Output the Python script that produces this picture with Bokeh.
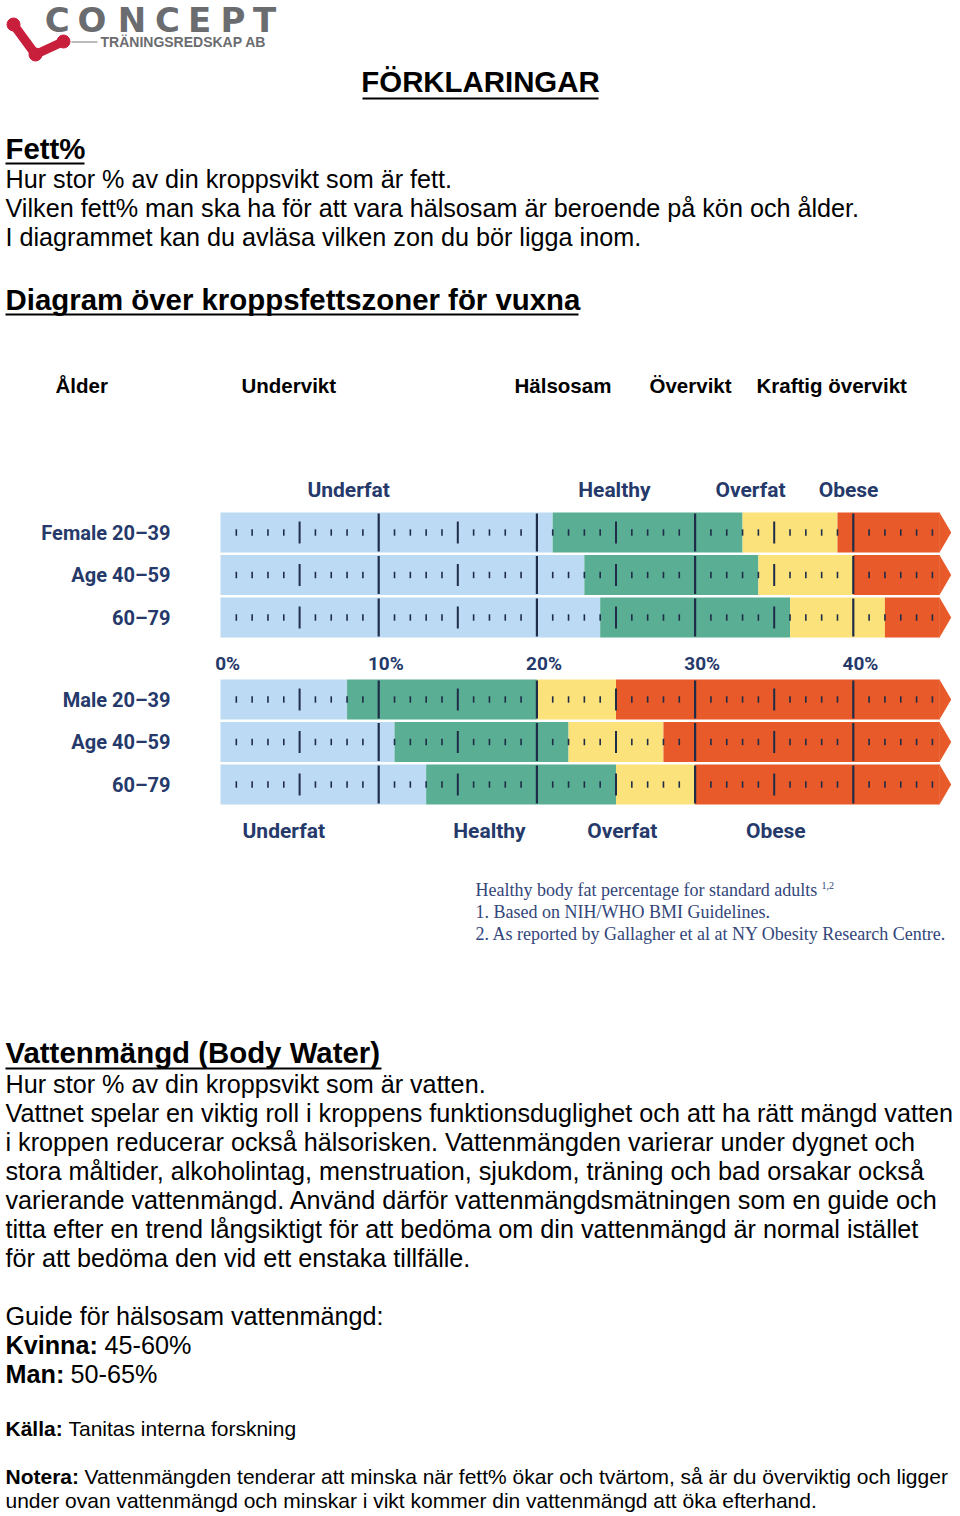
from bokeh.plotting import figure
from bokeh.models import Range1d, ColumnDataSource
from bokeh.core.properties import value
from bokeh.embed import file_html
from bokeh.resources import INLINE

# ---------------- data ----------------
female_groups = ["Female 20–39", "Age 40–59", "60–79"]
male_groups = ["Male 20–39", "Age 40–59", "60–79"]
female_healthy_from = [21, 23, 24]
female_overfat_from = [33, 34, 36]
female_obese_from = [39, 40, 42]
male_healthy_from = [8, 11, 13]
male_overfat_from = [20, 22, 25]
male_obese_from = [25, 28, 30]
zone_names = ["Underfat", "Healthy", "Overfat", "Obese"]
pct_ticks = [0, 10, 20, 30, 40]
pct_tick_labels = ["0%", "10%", "20%", "30%", "40%"]

title_text = "FÖRKLARINGAR"
fat_heading = "Fett%"
fat_lines = [
    "Hur stor % av din kroppsvikt som är fett.",
    "Vilken fett% man ska ha för att vara hälsosam är beroende på kön och ålder.",
    "I diagrammet kan du avläsa vilken zon du bör ligga inom.",
]
diagram_heading = "Diagram över kroppsfettszoner för vuxna"
swedish_zone_words = ["Ålder", "Undervikt", "Hälsosam", "Övervikt", "Kraftig övervikt"]
footnote_lines = [
    "Healthy body fat percentage for standard adults",
    "1. Based on NIH/WHO BMI Guidelines.",
    "2. As reported by Gallagher et al at NY Obesity Research Centre.",
]
water_heading = "Vattenmängd (Body Water)"
water_lines = [
    "Hur stor % av din kroppsvikt som är vatten.",
    "Vattnet spelar en viktig roll i kroppens funktionsduglighet och att ha rätt mängd vatten",
    "i kroppen reducerar också hälsorisken. Vattenmängden varierar under dygnet och",
    "stora måltider, alkoholintag, menstruation, sjukdom, träning och bad orsakar också",
    "varierande vattenmängd. Använd därför vattenmängdsmätningen som en guide och",
    "titta efter en trend långsiktigt  för att bedöma om din vattenmängd är normal istället",
    "för att bedöma den vid ett enstaka tillfälle.",
]
guide_line = "Guide för hälsosam vattenmängd:"
guide_labels = ["Kvinna:", "Man:"]
guide_values = ["45-60%", "50-65%"]
source_label, source_text = "Källa:", "Tanitas interna forskning"
note_label = "Notera:"
note_lines = [
    "Vattenmängden tenderar att minska när fett% ökar och tvärtom, så är du överviktig och ligger",
    "under ovan vattenmängd och minskar i vikt kommer din vattenmängd att öka efterhand.",
]

# ---------------- styles / layout ----------------
C_BLUE, C_GREEN, C_YELLOW, C_ORANGE = "#bcdaf3", "#5aae93", "#fbe27b", "#e85a29"
NAVY = "#25396a"
TICK = "#1e2c48"
SANS = value("Liberation Sans")
SERIF = value("Liberation Serif")
DIN = value("Roboto")
X0 = 5
BAR_END, TIP = 45.47, 46.19
ROW_H = 40
W, H = 960, 1516

p = figure(width=W, height=H, x_range=Range1d(0, W), y_range=Range1d(H, 0),
           output_backend="svg", toolbar_location=None, min_border=0)
p.axis.visible = False
p.grid.visible = False
p.outline_line_color = None
p.background_fill_color = "white"
p.border_fill_color = "white"
p.extra_x_ranges = {"pct": Range1d((0 - 220) / 15.82, (W - 220) / 15.82)}

# ---------------- logo ----------------
logo_letters = list("CONCEPT")
logo_x = [56.7, 91.5, 131.5, 167, 199, 232.5, 264]
p.text(x=logo_x, y=[19] * 7, text=logo_letters, text_font=value("DejaVu Sans"),
       text_font_style="bold", text_font_size="34px", text_color="#6b6c6f",
       text_align="center", text_baseline="middle")
p.text(x=[100], y=[41], text=["TRÄNINGSREDSKAP AB"], text_font=SANS, text_font_style="bold",
       text_font_size="14px", text_color="#6b6c6f", text_baseline="middle")
p.segment(x0=[71], y0=[41.5], x1=[97], y1=[41.5], line_color="#7a7a7a", line_width=1.2)
p.line(x=[13, 35, 63], y=[24, 54, 41], line_color="#c81f3c", line_width=9, line_cap="round", line_join="round")
p.scatter(x=[13, 35, 63], y=[24, 54, 41], size=13, color="#c81f3c")

# ---------------- headings & text ----------------
def txt(x, y, s, size, bold=False, font=SANS, color="black", align="left"):
    p.text(x=[x], y=[y], text=[s], text_font=font, text_font_style="bold" if bold else "normal",
           text_font_size=size, text_color=color, text_align=align, text_baseline="middle")

def underline(x0, x1, y):
    p.segment(x0=[x0], y0=[y], x1=[x1], y1=[y], line_color="black", line_width=2.2)

HEAD = "29.4px"
BODY = "25.2px"
txt(480, 81, title_text, HEAD, bold=True, align="center")
underline(362, 598, 98)

txt(X0, 148, fat_heading, HEAD, bold=True)
underline(X0, X0 + 79, 163)
for i, s in enumerate(fat_lines):
    txt(X0, 178 + 29 * i, s, BODY)

txt(X0, 299, diagram_heading, HEAD, bold=True)
underline(X0, X0 + 573, 314)

for s, x in zip(swedish_zone_words, [55, 241, 514, 649, 756]):
    txt(x, 385, s, "20.5px", bold=True)

# ---------------- chart ----------------
female_y = [532, 574.5, 617]
male_y = [699, 741.5, 784]

rows_y = female_y + male_y
healthy = female_healthy_from + male_healthy_from
overfat = female_overfat_from + male_overfat_from
obese = female_obese_from + male_obese_from

L, R, T, B, COL = [], [], [], [], []
for yc, h, o, ob in zip(rows_y, healthy, overfat, obese):
    for a, b, c in [(0, h, C_BLUE), (h, o, C_GREEN), (o, ob, C_YELLOW), (ob, BAR_END, C_ORANGE)]:
        L.append(a); R.append(b); T.append(yc - ROW_H / 2); B.append(yc + ROW_H / 2); COL.append(c)
p.quad(left=L, right=R, top=T, bottom=B, fill_color=COL, line_color=None, x_range_name="pct")
p.patches(xs=[[BAR_END - 0.02, TIP, BAR_END - 0.02] for _ in rows_y],
          ys=[[yc - ROW_H / 2, yc, yc + ROW_H / 2] for yc in rows_y],
          fill_color=C_ORANGE, line_color=None, x_range_name="pct")

# ticks
mx0, my0, my1, mw = [], [], [], []
for yc in rows_y:
    for k in range(1, 46):
        if k % 10 == 0:
            mx0.append(k); my0.append(yc - ROW_H / 2 + 1); my1.append(yc + ROW_H / 2 - 1); mw.append(2.2)
        elif k % 5 == 0 and k < 45:
            mx0.append(k); my0.append(yc - 11); my1.append(yc + 11); mw.append(2.0)
        else:
            mx0.append(k); my0.append(yc - 3.2); my1.append(yc + 3.2); mw.append(1.6)
tsrc = ColumnDataSource(dict(x=mx0, y0=my0, y1=my1, w=mw))
p.segment(x0="x", y0="y0", x1="x", y1="y1", line_width="w", line_color=TICK, source=tsrc,
          x_range_name="pct")

# labels
p.text(x=[170] * 3, y=female_y, text=female_groups, text_font=DIN, text_font_style="bold",
       text_font_size="20px", text_color=NAVY, text_align="right", text_baseline="middle")
p.text(x=[170] * 3, y=male_y, text=male_groups, text_font=DIN, text_font_style="bold",
       text_font_size="20px", text_color=NAVY, text_align="right", text_baseline="middle")
p.text(x=[t + 0.45 for t in pct_ticks], y=[663] * 5, text=pct_tick_labels, text_font=DIN,
       text_font_style="bold", text_font_size="19px", text_color=NAVY, text_align="center",
       text_baseline="middle", x_range_name="pct")
p.text(x=[8.1, 24.9, 33.5, 39.7], y=[489] * 4, text=zone_names, text_font=DIN,
       text_font_style="bold", text_font_size="21px", text_color=NAVY, text_align="center",
       text_baseline="middle", x_range_name="pct")
p.text(x=[4.0, 17.0, 25.4, 35.1], y=[830] * 4, text=zone_names, text_font=DIN,
       text_font_style="bold", text_font_size="21px", text_color=NAVY, text_align="center",
       text_baseline="middle", x_range_name="pct")

# footnote
FN = "#33467a"
for i, s in enumerate(footnote_lines):
    txt(475, 889 + 22 * i, s, "18px", font=SERIF, color=FN)
txt(821, 885, "1,2", "10px", font=SERIF, color=FN)

# ---------------- water section ----------------
txt(X0, 1052, water_heading, HEAD, bold=True)
underline(X0, X0 + 376, 1068)
for i, s in enumerate(water_lines):
    txt(X0, 1083 + 29 * i, s, BODY)
txt(X0, 1315, guide_line, BODY)
for i, lab in enumerate(guide_labels):
    txt(X0, 1344 + 29 * i, lab, BODY, bold=True)
txt(X0 + 99, 1344, guide_values[0], BODY)
txt(X0 + 65, 1373, guide_values[1], BODY)

txt(X0, 1428, source_label, "21px", bold=True)
txt(X0 + 63, 1428, source_text, "21px")
txt(X0, 1476, note_label, "21px", bold=True)
txt(X0 + 79, 1476, note_lines[0], "21px")
txt(X0, 1500, note_lines[1], "21px")

open("out.html", "w").write(file_html(p, INLINE))
